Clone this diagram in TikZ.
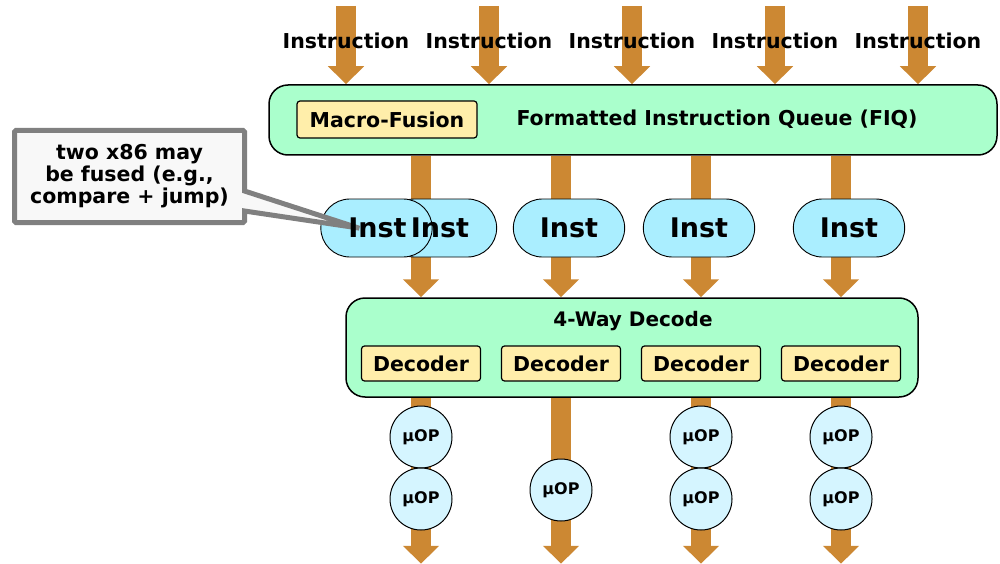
\documentclass[tikz,border=0pt]{standalone}
\usepackage{fontspec}
\setmainfont{DejaVu Sans}
\usetikzlibrary{positioning,calc,arrows.meta,shapes.misc,shapes.callouts,backgrounds}

\definecolor{flowc}{HTML}{CC8833}
\definecolor{mint}{HTML}{AAFFCC}
\definecolor{pale}{HTML}{FFEEAA}
\definecolor{instc}{HTML}{AAEEFF}
\definecolor{uopc}{HTML}{D5F5FF}
\definecolor{notec}{HTML}{F8F8F8}

\tikzset{
  flow/.style={draw=flowc, line width=20pt, -{Triangle[width=35pt,length=18pt]}},
  stage/.style={draw=black, line width=1.5pt, rounded corners=19pt, fill=mint, inner sep=0pt},
  unit/.style={draw=black, line width=1.2pt, rounded corners=3pt, fill=pale, inner sep=0pt,
    minimum width=119pt, minimum height=35pt, font=\bfseries\fontsize{20.5}{22}\selectfont},
  inst/.style={rounded rectangle, draw=black, line width=0.9pt, fill=instc,
    minimum width=118pt, minimum height=58pt},
  uop/.style={circle, draw=black, line width=1pt, fill=uopc, minimum size=62pt, inner sep=0pt,
    font=\bfseries\fontsize{16}{18}\selectfont},
  lbl/.style={font=\bfseries\fontsize{20.5}{22}\selectfont, inner sep=0pt}
}

\begin{document}
\begin{tikzpicture}[x=1pt,y=-1pt]
\useasboundingbox (0,0) rectangle (1000,564);

% queue and decode blocks
\node[stage, minimum width=728pt, minimum height=70pt] (fiq) at (633,120) {};
\node[lbl] (fiqtitle) at (717,119) {Formatted Instruction Queue (FIQ)};
\node[unit, minimum width=180pt, minimum height=37pt] (macro) at (387,119.5) {Macro-Fusion};

\node[stage, minimum width=572pt, minimum height=99pt] (decode) at (632,347.5) {};
\node[lbl, font=\bfseries\fontsize{20}{22}\selectfont] (dectitle) at (633,321) {4-Way Decode};
\foreach \x [count=\i] in {421,561,701,841}
  \node[unit] (dec\i) at (\x,363.5) {Decoder};

% flow arrows
\begin{pgfonlayer}{background}
\foreach \x [count=\i] in {346,489,632,775,918} {
  \coordinate (src\i) at (\x,6);
  \draw[flow] (src\i) -- (src\i |- fiq.north);
}
\foreach \i in {1,...,4} {
  \coordinate (out\i) at ($(dec\i |- decode.south)+(0,166)$);
  \draw[flow] (dec\i |- fiq.south) -- (dec\i |- decode.north);
  \draw[flow] (dec\i |- decode.south) -- (out\i);
}
\end{pgfonlayer}
\foreach \i in {1,...,5}
  \node[lbl] (ilbl\i) at ($(src\i)+(0,35)$) {Instruction};

% instructions in the queue
\node[inst] (instB) at (441,228) {};
\node[inst] (instA) at (376.5,228) {};
\node[inst] (instC) at (569,228) {};
\node[inst] (instD) at (699,228) {};
\node[inst] (instE) at (849,228) {};
\coordinate (fusept) at ($(instA.center)+(-18,0)$);

\node[rectangle callout, callout absolute pointer={(fusept)}, callout pointer width=20pt,
      draw=black!50, line width=5pt, fill=notec, rounded corners=1.5pt, align=center,
      minimum width=230pt, minimum height=92pt, inner sep=0pt,
      font=\bfseries\fontsize{20.5}{22}\selectfont] (note) at (129.5,176.5)
  {two x86 may\\be fused (e.g.,\\compare + jump)};

\node[font=\bfseries\fontsize{27}{29}\selectfont, inner sep=0pt] at ($(instA.center)+(1,0)$) {Inst};
\node[font=\bfseries\fontsize{27}{29}\selectfont, inner sep=0pt] at ($(instB.center)+(-1,0)$) {Inst};
\foreach \n in {instC,instD,instE}
  \node[font=\bfseries\fontsize{27}{29}\selectfont, inner sep=0pt] at (\n.center) {Inst};

% micro-ops
\node[uop] (u1a) at (421,437) {µOP};
\node[uop] (u1b) at (421,499) {µOP};
\node[uop] (u2a) at (561,490) {µOP};
\node[uop] (u3a) at (701,437) {µOP};
\node[uop] (u3b) at (701,499) {µOP};
\node[uop] (u4a) at (841,437) {µOP};
\node[uop] (u4b) at (841,499) {µOP};
\end{tikzpicture}
\end{document}
